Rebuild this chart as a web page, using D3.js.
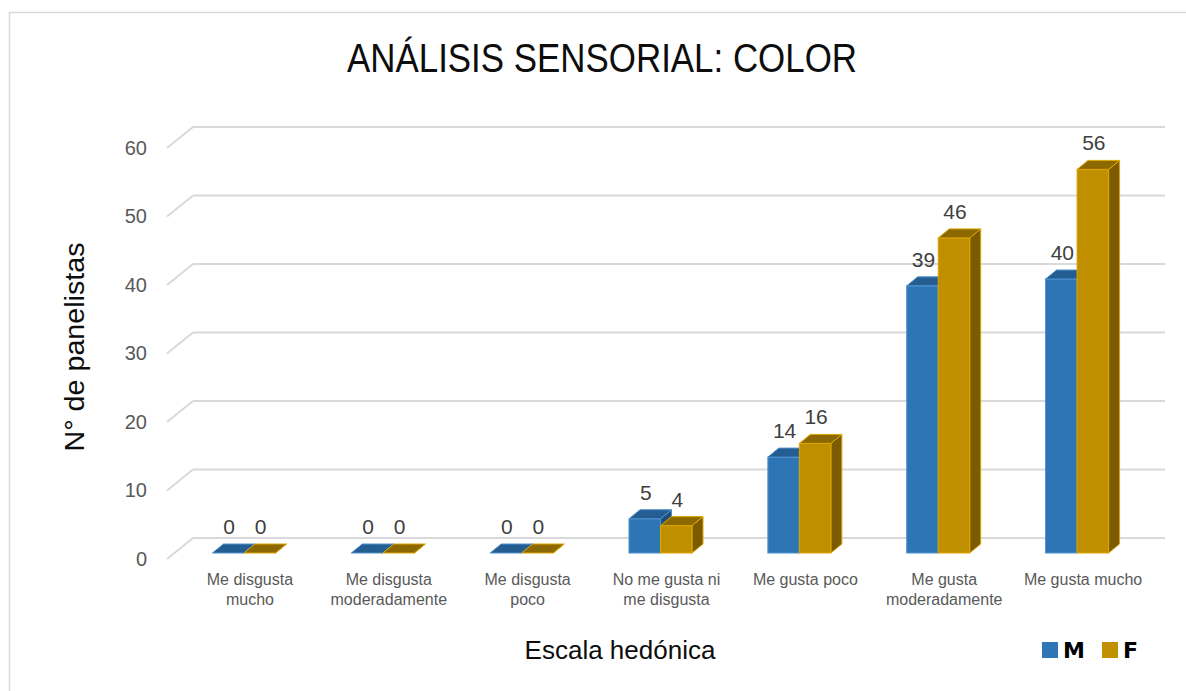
<!DOCTYPE html>
<html>
<head>
<meta charset="utf-8">
<script src="https://cdn.jsdelivr.net/npm/d3@7"></script>
<style>
  html, body { margin: 0; padding: 0; background: #fff; }
  svg { display: block; font-family: "Liberation Sans", Arial, sans-serif; }
</style>
</head>
<body>
<svg id="chart" width="1186" height="691"></svg>
<script>
// ---- data ----
const categories = [
  "Me disgusta mucho",
  "Me disgusta moderadamente",
  "Me disgusta poco",
  "No me gusta ni me disgusta",
  "Me gusta poco",
  "Me gusta moderadamente",
  "Me gusta mucho"
];
const categoryLines = [
  ["Me disgusta", "mucho"],
  ["Me disgusta", "moderadamente"],
  ["Me disgusta", "poco"],
  ["No me gusta ni", "me disgusta"],
  ["Me gusta poco"],
  ["Me gusta", "moderadamente"],
  ["Me gusta mucho"]
];
const seriesNames = ["M", "F"];
const valuesM = [0, 0, 0, 5, 14, 39, 40];
const valuesF = [0, 0, 0, 4, 16, 46, 56];
const yTicks = [0, 10, 20, 30, 40, 50, 60];
const titleText = "ANÁLISIS SENSORIAL: COLOR";
const yTitle = "N° de panelistas";
const xTitle = "Escala hedónica";

// ---- styles / layout ----
const colors = {
  M: { front: "#2E75B6", top: "#245D91", side: "#1F4E79", stroke: "#4F91CF" },
  F: { front: "#BF8F00", top: "#8C6900", side: "#7A5B00", stroke: "#DDA600" }
};
const svg = d3.select("#chart");
const frontLeft = 167, frontRight = 1139;
const wallDx = 26, wallDy = 21;          // full depth of the floor/walls
const barDx0 = 7.5, barDy0 = 6;          // bar front plane offset
const barDx = 11, barDy = 9;             // bar depth

const y = d3.scaleLinear().domain([0, 60]).range([559, 148]);
const x = d3.scaleBand().domain(categories).range([frontLeft, frontRight]);
const groupW = 63;
const xs = d3.scaleBand().domain(seriesNames).range([0, groupW]);
const groupOff = (x.bandwidth() - groupW) / 2;

// border
svg.append("rect").attr("x", 9.5).attr("y", 12.5).attr("width", 1200).attr("height", 700)
  .attr("fill", "none").attr("stroke", "#D9D9D9").attr("stroke-width", 1.5);

// title
svg.append("text").attr("x", 602).attr("y", 72).attr("text-anchor", "middle")
  .attr("font-size", 40).attr("fill", "#0D0D0D")
  .attr("textLength", 510).attr("lengthAdjust", "spacingAndGlyphs")
  .text(titleText);

// gridlines (back wall + slanted side)
const grid = svg.append("g");
yTicks.forEach(t => {
  grid.append("line")
    .attr("x1", frontLeft + wallDx).attr("x2", frontRight + wallDx)
    .attr("y1", y(t) - wallDy).attr("y2", y(t) - wallDy)
    .attr("stroke", "#D9D9D9").attr("stroke-width", 2);
  grid.append("line")
    .attr("x1", frontLeft).attr("y1", y(t))
    .attr("x2", frontLeft + wallDx).attr("y2", y(t) - wallDy)
    .attr("stroke", "#D9D9D9").attr("stroke-width", 2);
});

// y axis labels
const yAxis = svg.append("g").attr("transform", "translate(150,0)")
  .call(d3.axisLeft(y).tickValues(yTicks).tickSize(0).tickPadding(3));
yAxis.select(".domain").remove();
yAxis.selectAll("text").attr("font-size", 20).attr("fill", "#595959")
  .attr("font-family", "Liberation Sans, Arial, sans-serif");

// bars
const barsG = svg.append("g");
const series = [
  { name: "M", values: valuesM },
  { name: "F", values: valuesF }
];
categories.forEach((cat, i) => {
  series.forEach(s => {
    const v = s.values[i];
    const c = colors[s.name];
    const w = xs.bandwidth();
    const x0 = x(cat) + groupOff + xs(s.name) + barDx0;
    const yt = y(v) - barDy0;
    const yb = y(0) - barDy0;
    const g = barsG.append("g");
    // side
    g.append("path")
      .attr("d", `M${x0 + w},${yt} L${x0 + w + barDx},${yt - barDy} L${x0 + w + barDx},${yb - barDy} L${x0 + w},${yb} Z`)
      .attr("fill", c.side).attr("stroke", c.stroke).attr("stroke-width", 1).attr("stroke-linejoin", "round");
    // front
    g.append("rect").attr("x", x0).attr("y", yt).attr("width", w).attr("height", Math.max(0, yb - yt))
      .attr("fill", c.front).attr("stroke", c.stroke).attr("stroke-width", 1);
    // top
    g.append("path")
      .attr("d", `M${x0},${yt} L${x0 + w},${yt} L${x0 + w + barDx},${yt - barDy} L${x0 + barDx},${yt - barDy} Z`)
      .attr("fill", c.top).attr("stroke", c.stroke).attr("stroke-width", 1).attr("stroke-linejoin", "round");
  });
});

// data labels
categories.forEach((cat, i) => {
  series.forEach(s => {
    const v = s.values[i];
    const w = xs.bandwidth();
    const cx = x(cat) + groupOff + xs(s.name) + barDx0 + w / 2 + 1;
    svg.append("text").attr("x", cx).attr("y", y(v) - barDy0 - barDy - 10)
      .attr("text-anchor", "middle").attr("font-size", 21).attr("fill", "#404040")
      .text(v);
  });
});

// category labels
categories.forEach((cat, i) => {
  const cx = x(cat) + x.bandwidth() / 2 + barDx0 + 6;
  const t = svg.append("text").attr("text-anchor", "middle")
    .attr("font-size", 16).attr("fill", "#595959");
  categoryLines[i].forEach((line, k) => {
    t.append("tspan").attr("x", cx).attr("y", 585 + k * 20).text(line);
  });
});

// axis titles
svg.append("text").attr("transform", "translate(84,347) rotate(-90)")
  .attr("text-anchor", "middle").attr("font-size", 27).attr("fill", "#0D0D0D")
  .attr("textLength", 209).attr("lengthAdjust", "spacingAndGlyphs")
  .text(yTitle);
svg.append("text").attr("x", 620).attr("y", 659).attr("text-anchor", "middle")
  .attr("font-size", 26).attr("fill", "#0D0D0D")
  .text(xTitle);

// legend
const legend = svg.append("g");
const legendX = [1042, 1102];
seriesNames.forEach((n, k) => {
  legend.append("rect").attr("x", legendX[k]).attr("y", 642).attr("width", 16).attr("height", 16)
    .attr("fill", colors[n].front);
  legend.append("text").attr("x", legendX[k] + 21).attr("y", 658)
    .attr("font-family", "DejaVu Sans, sans-serif").attr("font-weight", "bold")
    .attr("font-size", 22).attr("fill", "#000").text(n);
});
</script>
</body>
</html>
